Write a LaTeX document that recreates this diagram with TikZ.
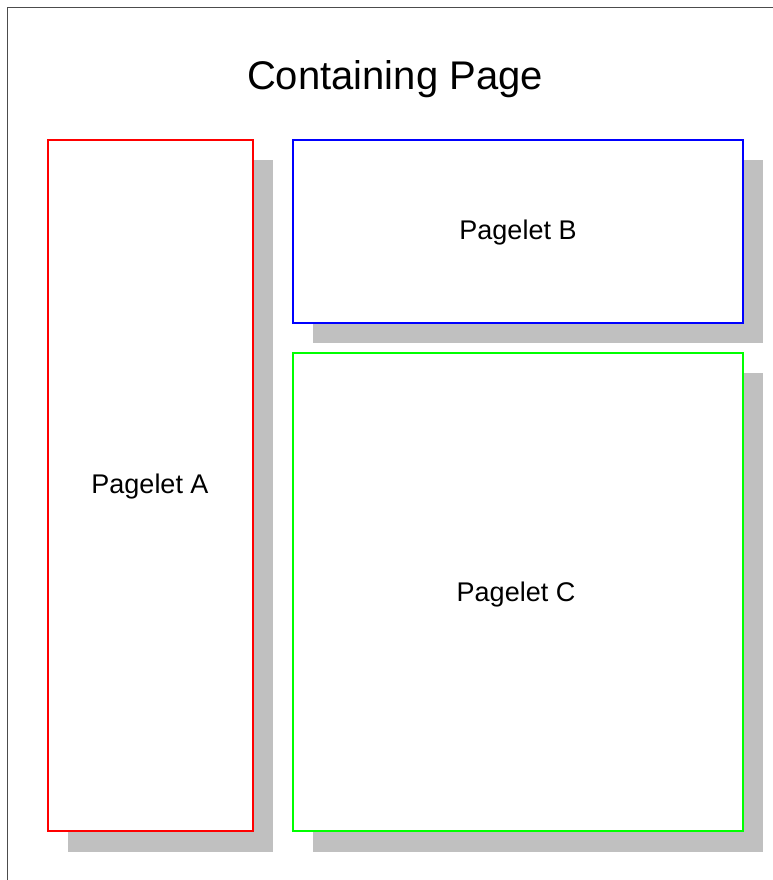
\documentclass[tikz,border=0pt]{standalone}
\usepackage{fontspec}
\setmainfont{Liberation Sans}
\definecolor{shadowgray}{RGB}{192,192,192}
\definecolor{pgred}{RGB}{255,0,0}
\definecolor{pgblue}{RGB}{0,0,255}
\definecolor{pggreen}{RGB}{0,255,0}
\tikzset{
  shadowbox/.style={fill=shadowgray, draw=none},
  pagebox/.style={fill=white, line width=2pt},
  pglabel/.style={anchor=base, font=\fontsize{27}{32}\selectfont, inner sep=0pt},
  titlelabel/.style={anchor=base, font=\fontsize{40}{46}\selectfont, inner sep=0pt}
}
\begin{document}
\begin{tikzpicture}[x=1pt,y=-1pt]
\useasboundingbox (0,0) rectangle (773,880);
% outer page border (only left and top visible)
\draw[line width=1pt, black!70] (7.5,880) -- (7.5,7.5) -- (773,7.5);
% shadows
\fill[shadowbox] (68,160) rectangle (273,852);
\fill[shadowbox] (313,160) rectangle (763,343);
\fill[shadowbox] (313,373) rectangle (763,852);
% pagelets
\draw[pagebox, draw=pgred] (48,140) rectangle (253,831);
\draw[pagebox, draw=pgblue] (293,140) rectangle (743,323);
\draw[pagebox, draw=pggreen] (293,353) rectangle (743,831);
% labels
\node[titlelabel] (title) at (395,90) {Containing Page};
\node[pglabel] (la) at (150,493) {Pagelet A};
\node[pglabel] (lb) at (518,239.5) {Pagelet B};
\node[pglabel] (lc) at (516,601) {Pagelet C};
\end{tikzpicture}
\end{document}
